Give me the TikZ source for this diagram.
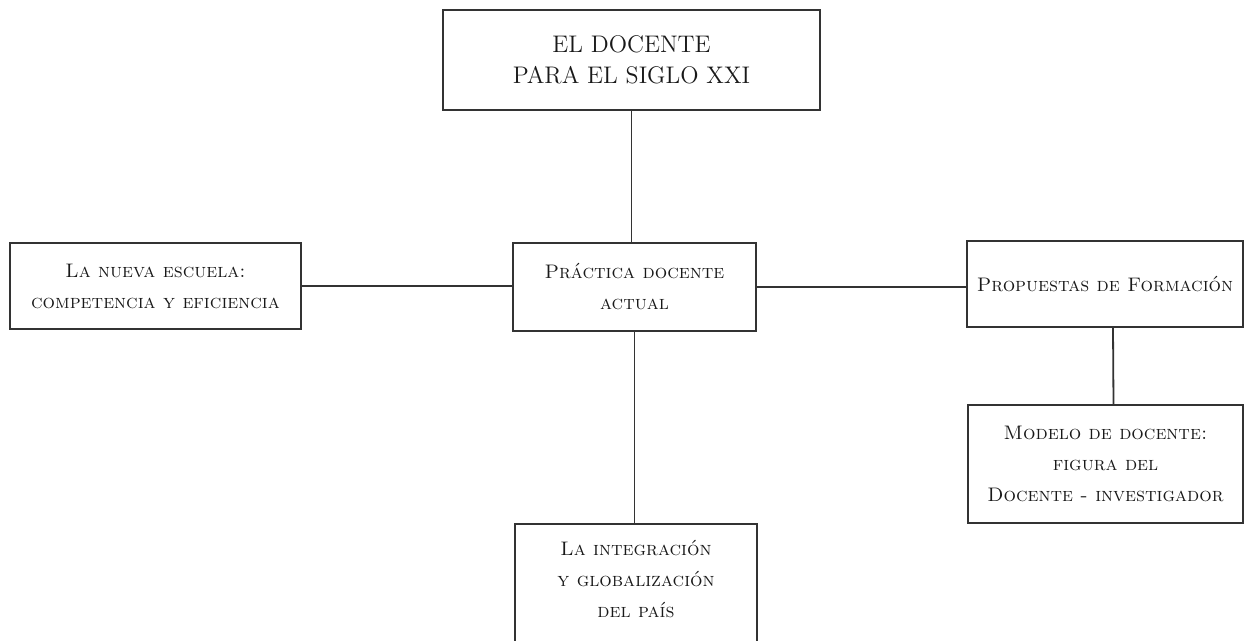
\documentclass[tikz,border=0pt]{standalone}
\tikzset{
  tema/.style={draw=black!80, line width=0.9pt, align=center, inner sep=0pt,
    text=black!90, font=\fontsize{9.8}{15.5}\selectfont\scshape},
  titulo/.style={tema, font=\fontsize{12}{15.5}\selectfont},
}
\begin{document}
\begin{tikzpicture}[x=0.5pt,y=-0.5pt]
      \useasboundingbox (0,0) rectangle (1254,641);
      \clip (0,0) rectangle (1254,641);
      \node[titulo, minimum width=188.5pt, minimum height=50pt] (siglo) at (631.5,60)
        {EL DOCENTE\\PARA EL SIGLO XXI};
      \node[tema, minimum width=121.5pt, minimum height=44pt] (practica) at (634.5,287)
        {Pr\'actica docente\\actual};
      \node[tema, minimum width=145.5pt, minimum height=43pt] (escuela) at (155.5,286)
        {La nueva escuela:\\competencia y eficiencia};
      \node[tema, minimum width=138pt, minimum height=43pt] (propuestas) at (1105,284)
        {Propuestas de Formaci\'on};
      \node[tema, minimum width=137.5pt, minimum height=59pt] (modelo) at (1105.5,464)
        {Modelo de docente:\\figura del\\Docente - investigador};
      \node[tema, minimum width=121pt, inner ysep=8pt, text depth=24pt, anchor=north] (integracion) at (636,523)
        {La integraci\'on\\y globalizaci\'on\\del pa\'{\i}s};
      \begin{scope}[draw=black!80, line width=0.9pt]
        \draw (siglo) to (siglo.south |- practica.north);
        \draw (escuela.east) to (escuela.east -| practica.west);
        \draw (practica.east) to (practica.east -| propuestas.west);
        \draw (practica.south) to (practica.south |- integracion.north);
        \draw ([xshift=4pt]propuestas.south) to ([xshift=4pt]modelo.north);
      \end{scope}
    \end{tikzpicture}
\end{document}
